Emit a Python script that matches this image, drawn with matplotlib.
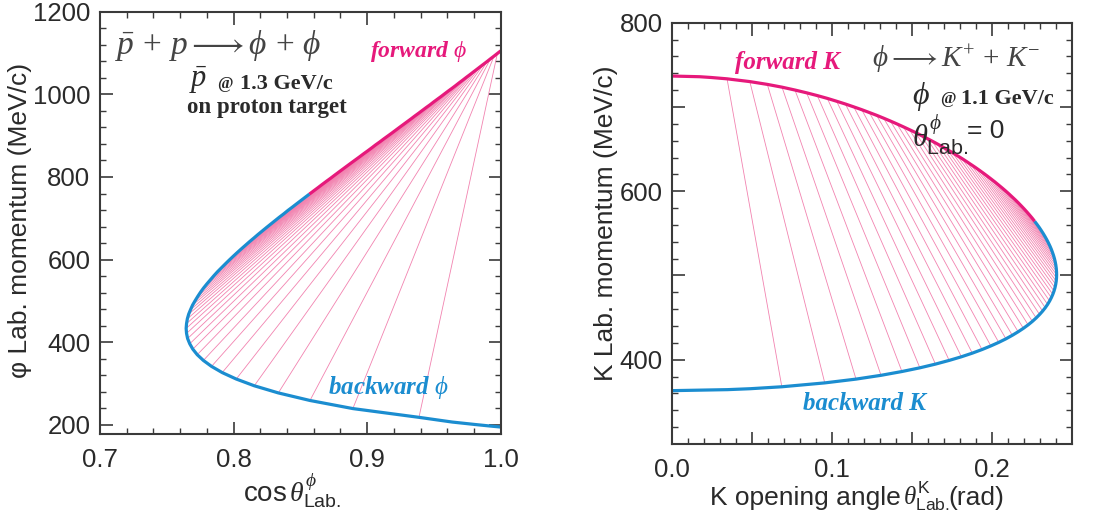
import numpy as np
import matplotlib
matplotlib.use("Agg")
import matplotlib.pyplot as plt
from matplotlib.ticker import MultipleLocator, FuncFormatter

# ---- left panel: pbar + p -> phi + phi, phi lab momentum vs cos(theta_lab)
# forward / backward phi pairs, cos(theta*) from 0 to 1 in steps of 0.02
fwd_cos = [0.8568, 0.8600, 0.8632, 0.8663, 0.8695, 0.8727, 0.8758, 0.8789, 0.8820, 0.8851,
           0.8882, 0.8913, 0.8944, 0.8974, 0.9005, 0.9035, 0.9064, 0.9095, 0.9124, 0.9154,
           0.9184, 0.9213, 0.9242, 0.9271, 0.9300, 0.9329, 0.9357, 0.9386, 0.9414, 0.9442,
           0.9471, 0.9498, 0.9526, 0.9554, 0.9581, 0.9608, 0.9636, 0.9663, 0.9689, 0.9716,
           0.9742, 0.9769, 0.9795, 0.9821, 0.9847, 0.9873, 0.9899, 0.9924, 0.9950, 0.9975, 1.0]
fwd_p = [758.6, 766.4, 774.1, 781.8, 789.5, 797.0, 804.6, 812.1, 819.5, 826.9,
         834.3, 841.6, 848.9, 856.2, 863.4, 870.6, 877.8, 884.9, 892.0, 899.0,
         906.0, 913.0, 920.0, 926.9, 933.8, 940.7, 947.6, 954.4, 961.2, 968.0,
         974.7, 981.5, 988.2, 994.8, 1001.5, 1008.1, 1014.7, 1021.3, 1027.9, 1034.4,
         1041.0, 1047.5, 1054.0, 1060.4, 1066.9, 1073.3, 1079.7, 1086.1, 1092.5, 1098.9, 1105.2]
bwd_cos = [0.8568, 0.8536, 0.8504, 0.8472, 0.8440, 0.8407, 0.8376, 0.8343, 0.8311, 0.8279,
           0.8247, 0.8215, 0.8183, 0.8152, 0.8120, 0.8089, 0.8058, 0.8027, 0.7997, 0.7967,
           0.7938, 0.7909, 0.7880, 0.7853, 0.7827, 0.7801, 0.7776, 0.7753, 0.7732, 0.7712,
           0.7693, 0.7678, 0.7664, 0.7654, 0.7648, 0.7645, 0.7648, 0.7656, 0.7672, 0.7695,
           0.7728, 0.7774, 0.7835, 0.7915, 0.8020, 0.8155, 0.8335, 0.8572, 0.8893, 0.9388, 1.0]
bwd_p = [758.6, 750.8, 742.9, 735.0, 727.0, 719.0, 710.8, 702.7, 694.4, 686.1,
         677.8, 669.3, 660.8, 652.2, 643.5, 634.7, 625.9, 616.9, 607.9, 598.7,
         589.5, 580.1, 570.7, 561.1, 551.3, 541.5, 531.5, 521.3, 511.0, 500.5,
         489.9, 479.0, 468.0, 456.7, 445.2, 433.4, 421.4, 409.0, 396.3, 383.3,
         369.9, 356.0, 341.6, 326.6, 311.0, 294.7, 277.4, 259.1, 239.5, 218.3, 194.8]
# extra points on the backward curve close to cos = 1
bwd_tail_cos = [0.9637, 0.9810, 0.9920]
bwd_tail_p = [206.9, 200.9, 197.3]

# ---- right panel: phi -> K+ K-, K lab momentum vs opening angle
k_fwd_ang = [0.22677, 0.22525, 0.22365, 0.22200, 0.22028, 0.21849, 0.21665, 0.21473, 0.21275, 0.21072,
             0.20861, 0.20646, 0.20423, 0.20194, 0.19958, 0.19717, 0.19469, 0.19213, 0.18952, 0.18684,
             0.18408, 0.18125, 0.17836, 0.17538, 0.17232, 0.16920, 0.16597, 0.16267, 0.15926, 0.15577,
             0.15217, 0.14846, 0.14462, 0.14067, 0.13659, 0.13236, 0.12797, 0.12340, 0.11864, 0.11367,
             0.10844, 0.10294, 0.09711, 0.09088, 0.08418, 0.07689, 0.06880, 0.05961, 0.04869, 0.03444, 0.0]
k_fwd_p = [564.4, 568.1, 571.7, 575.3, 578.9, 582.5, 586.1, 589.7, 593.2, 596.8,
           600.4, 603.9, 607.4, 611.0, 614.5, 618.0, 621.5, 625.0, 628.5, 631.9,
           635.4, 638.9, 642.3, 645.8, 649.2, 652.7, 656.1, 659.5, 662.9, 666.3,
           669.8, 673.1, 676.5, 679.9, 683.3, 686.7, 690.1, 693.4, 696.8, 700.1,
           703.5, 706.8, 710.2, 713.5, 716.8, 720.1, 723.5, 726.8, 730.1, 733.4, 736.7]
k_bwd_ang = [0.22677, 0.22822, 0.22960, 0.23091, 0.23215, 0.23332, 0.23441, 0.23541, 0.23635, 0.23719,
             0.23794, 0.23861, 0.23919, 0.23967, 0.24005, 0.24032, 0.24049, 0.24055, 0.24048, 0.24029,
             0.23998, 0.23952, 0.23892, 0.23817, 0.23726, 0.23618, 0.23491, 0.23345, 0.23178, 0.22990,
             0.22777, 0.22539, 0.22274, 0.21978, 0.21650, 0.21285, 0.20884, 0.20436, 0.19941, 0.19391,
             0.18780, 0.18099, 0.17336, 0.16477, 0.15502, 0.14381, 0.13074, 0.11509, 0.09554, 0.06869, 0.0]
k_bwd_p = [564.4, 560.8, 557.2, 553.5, 549.8, 546.1, 542.4, 538.7, 535.0, 531.3,
           527.5, 523.8, 520.0, 516.2, 512.4, 508.6, 504.8, 500.9, 497.1, 493.2,
           489.4, 485.4, 481.5, 477.6, 473.7, 469.7, 465.7, 461.7, 457.7, 453.7,
           449.6, 445.5, 441.4, 437.3, 433.2, 429.0, 424.8, 420.6, 416.4, 412.1,
           407.8, 403.5, 399.2, 394.8, 390.4, 386.0, 381.5, 377.0, 372.5, 367.9, 363.3]
k_fwd_tail_ang = [0.02436, 0.01722]
k_fwd_tail_p = [735.0, 735.9]
k_bwd_tail_ang = [0.04898, 0.03480]
k_bwd_tail_p = [365.6, 364.5]

MAGENTA = '#e6197b'
BLUE = '#1b8dd0'
PINK = '#f283b0'
INK = '#3a3a3a'
TXT = '#2a2a2a'
GREY = '#444444'

plt.rcParams['font.family'] = ['Liberation Sans', 'DejaVu Sans']
plt.rcParams['mathtext.fontset'] = 'custom'
plt.rcParams['mathtext.rm'] = 'Liberation Serif'
plt.rcParams['mathtext.it'] = 'Liberation Serif:italic'
plt.rcParams['mathtext.bf'] = 'Liberation Serif:bold'
plt.rcParams['mathtext.sf'] = 'Liberation Sans'
SERIF = ['Liberation Serif', 'DejaVu Serif']


def style_axes(ax):
    for s in ax.spines.values():
        s.set_color(INK)
        s.set_linewidth(1.5)
    ax.tick_params(which='both', direction='in', top=True, right=True,
                   color=INK, labelcolor=TXT, labelsize=18.5)
    ax.tick_params(which='major', length=9, width=1.2)
    ax.tick_params(which='minor', length=4.5, width=1.0)


def draw_pairs(ax, fx, fy, bx, by, tx_b, ty_b, tx_f=None, ty_f=None):
    fx, fy, bx, by = map(np.asarray, (fx, fy, bx, by))
    # thin lines joining the two back-to-back partners
    ax.plot(np.vstack([fx[1:-1], bx[1:-1]]), np.vstack([fy[1:-1], by[1:-1]]),
            color=PINK, lw=0.6, solid_capstyle='butt')
    if tx_f is not None:
        cfx = np.r_[fx[:-1], tx_f, fx[-1:]]
        cfy = np.r_[fy[:-1], ty_f, fy[-1:]]
    else:
        cfx, cfy = fx, fy
    cbx = np.r_[bx[:-1], tx_b, bx[-1:]]
    cby = np.r_[by[:-1], ty_b, by[-1:]]
    ax.plot(cbx, cby, color=BLUE, lw=2.3, solid_capstyle='butt')
    ax.plot(cfx, cfy, color=MAGENTA, lw=2.3, solid_capstyle='butt')


fig = plt.figure(figsize=(11, 5.15), dpi=100)

# ---------------- left
ax1 = fig.add_axes([0.0909, 0.1573, 0.3643, 0.8200])
draw_pairs(ax1, fwd_cos, fwd_p, bwd_cos, bwd_p, bwd_tail_cos, bwd_tail_p)
ax1.set_xlim(0.7, 1.0)
ax1.set_ylim(178, 1200)
ax1.xaxis.set_major_locator(MultipleLocator(0.1))
ax1.xaxis.set_minor_locator(MultipleLocator(0.02))
ax1.yaxis.set_major_locator(MultipleLocator(200))
ax1.yaxis.set_minor_locator(MultipleLocator(40))
ax1.xaxis.set_major_formatter(FuncFormatter(lambda v, p: '%.1f' % v))
style_axes(ax1)
ax1.tick_params(axis='y', pad=7)
ax1.tick_params(axis='x', pad=10)

ax1.set_ylabel('φ Lab. momentum (MeV/c)', fontsize=19, color=TXT)
ax1.yaxis.set_label_coords(-0.17, 0.505)
ax1.text(0.48, -0.16, r'cos$\,\theta^{\phi}_{\mathsf{Lab.}}$', transform=ax1.transAxes,
         ha='center', va='baseline', fontsize=20, color=TXT)

ax1.text(0.037, 0.90, r'$\bar{p}\, +\, p \longrightarrow \phi\, +\, \phi$', transform=ax1.transAxes,
         ha='left', va='baseline', fontsize=24, color=GREY)
ax1.text(0.222, 0.838, r'$\bar{p}$', transform=ax1.transAxes,
         ha='left', va='center', fontsize=22, color=TXT)
ax1.text(0.292, 0.829, '@', transform=ax1.transAxes, ha='left', va='center',
         fontsize=12, color=TXT, family=SERIF, weight='bold')
ax1.text(0.349, 0.829, '1.3 GeV/c', transform=ax1.transAxes, ha='left', va='center',
         fontsize=16, color=TXT, family=SERIF, weight='bold')
ax1.text(0.217, 0.772, 'on proton target', transform=ax1.transAxes, ha='left', va='center',
         fontsize=16.5, color=TXT, family=SERIF, weight='bold')
ax1.text(0.675, 0.905, r'forward $\phi$', transform=ax1.transAxes,
         ha='left', va='center', fontsize=17, color=MAGENTA,
         family=SERIF, weight='bold', style='italic')
ax1.text(0.569, 0.109, r'backward $\phi$', transform=ax1.transAxes,
         ha='left', va='center', fontsize=18, color=BLUE,
         family=SERIF, weight='bold', style='italic')

# ---------------- right
ax2 = fig.add_axes([0.6109, 0.1379, 0.3634, 0.8180])
draw_pairs(ax2, k_fwd_ang, k_fwd_p, k_bwd_ang, k_bwd_p,
           k_bwd_tail_ang, k_bwd_tail_p, k_fwd_tail_ang, k_fwd_tail_p)
ax2.set_xlim(0.0, 0.25)
ax2.set_ylim(300, 800)
ax2.xaxis.set_major_locator(MultipleLocator(0.05))
ax2.xaxis.set_minor_locator(MultipleLocator(0.01))
ax2.yaxis.set_major_locator(MultipleLocator(100))
ax2.yaxis.set_minor_locator(MultipleLocator(20))
ax2.xaxis.set_major_formatter(FuncFormatter(
    lambda v, p: '%.1f' % v if abs(v * 10 - round(v * 10)) < 1e-6 else ''))
ax2.yaxis.set_major_formatter(FuncFormatter(
    lambda v, p: '%d' % v if int(round(v)) % 200 == 0 else ''))
style_axes(ax2)
ax2.tick_params(axis='y', pad=6.5)
ax2.tick_params(axis='x', pad=10)

ax2.set_ylabel('K Lab. momentum (MeV/c)', fontsize=19, color=TXT)
ax2.yaxis.set_label_coords(-0.135, 0.525)
ax2.text(0.572, -0.145, 'K opening angle', transform=ax2.transAxes,
         ha='right', va='baseline', fontsize=19, color=TXT)
ax2.text(0.578, -0.145, r'$\theta^{\mathsf{K}}_{\mathsf{Lab.}}$', transform=ax2.transAxes,
         ha='left', va='baseline', fontsize=18, color=TXT)
ax2.text(0.692, -0.145, '(rad)', transform=ax2.transAxes,
         ha='left', va='baseline', fontsize=19, color=TXT)

ax2.text(0.158, 0.906, 'forward K', transform=ax2.transAxes, ha='left', va='center',
         fontsize=18, color=MAGENTA, family=SERIF, weight='bold', style='italic')
ax2.text(0.50, 0.893, r'$\phi \longrightarrow K^{+}\, +\, K^{-}$', transform=ax2.transAxes,
         ha='left', va='baseline', fontsize=21, color=GREY)
ax2.text(0.60, 0.824, r'$\phi$', transform=ax2.transAxes, ha='left', va='center',
         fontsize=23, color=TXT)
ax2.text(0.672, 0.818, '@', transform=ax2.transAxes, ha='left', va='center',
         fontsize=12, color=TXT, family=SERIF, weight='bold')
ax2.text(0.722, 0.818, '1.1 GeV/c', transform=ax2.transAxes, ha='left', va='center',
         fontsize=16, color=TXT, family=SERIF, weight='bold')
ax2.text(0.60, 0.733, r'$\theta^{\phi}_{\mathsf{Lab.}}$', transform=ax2.transAxes,
         ha='left', va='center', fontsize=22, color=TXT)
ax2.text(0.738, 0.743, '= 0', transform=ax2.transAxes, ha='left', va='center',
         fontsize=19, color=TXT)
ax2.text(0.328, 0.097, 'backward K', transform=ax2.transAxes, ha='left', va='center',
         fontsize=18, color=BLUE, family=SERIF, weight='bold', style='italic')

fig.savefig('out.png', dpi=100)
